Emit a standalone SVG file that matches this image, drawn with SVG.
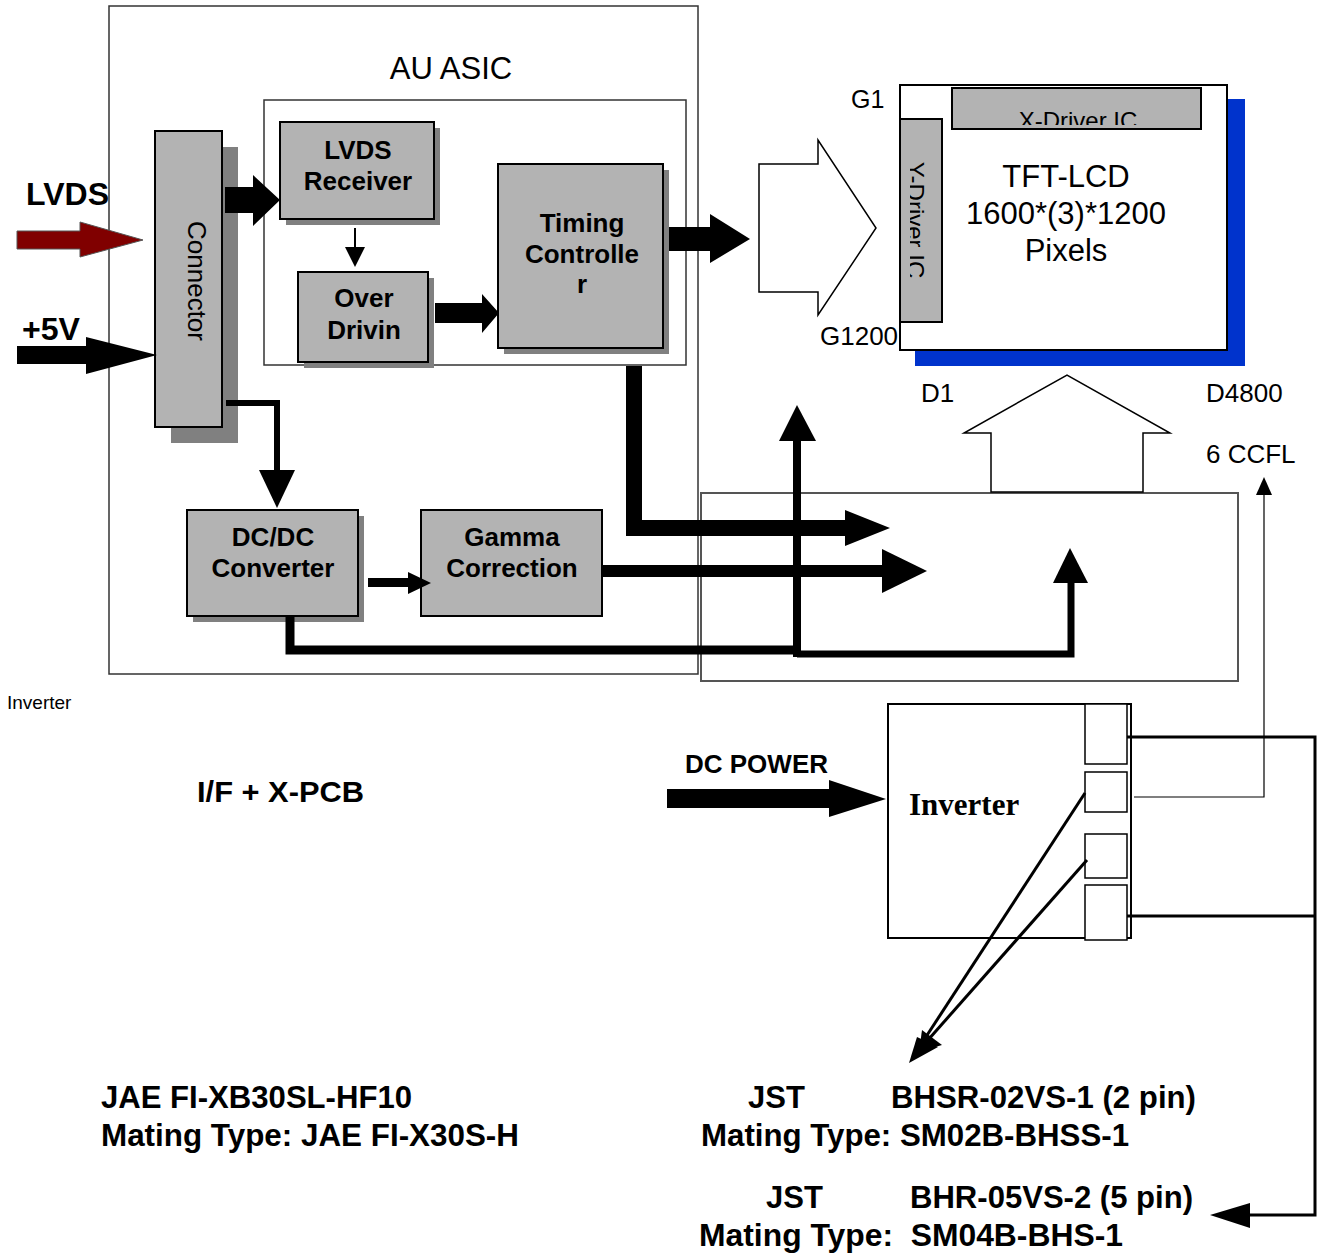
<svg xmlns="http://www.w3.org/2000/svg" width="1323" height="1255" viewBox="0 0 1323 1255">
<defs>
<style>
.b{font-family:"Liberation Sans",Arial,sans-serif;font-weight:bold;fill:#000}
.n{font-family:"Liberation Sans",Arial,sans-serif;font-weight:normal;fill:#000}
.box{fill:#b3b3b3;stroke:#000;stroke-width:2}
.sh{fill:#808080}
.frame{fill:none;stroke:#333;stroke-width:1.5}
.hollow{fill:#fff;stroke:#000;stroke-width:1.5}
.blk{fill:#000}
</style>
<clipPath id="cx"><rect x="952" y="88" width="249" height="37"/></clipPath>
<clipPath id="cy"><rect x="910" y="119" width="32" height="203"/></clipPath>
</defs>
<rect width="1323" height="1255" fill="#fff"/>

<g id="asic-frame">
<rect class="frame" x="109" y="6" width="589" height="668"/>
<text class="n" x="451" y="79" font-size="31" text-anchor="middle">AU ASIC</text>
</g>
<g id="asic-inner"><rect class="frame" x="264" y="100" width="422" height="265" stroke="#000"/></g>
<g id="xpcb-area"><rect x="701" y="493" width="537" height="188" fill="none" stroke="#555" stroke-width="2"/></g>

<g id="connector">
<rect class="sh" x="171" y="147" width="67" height="296"/>
<rect class="box" x="155" y="131" width="67" height="296"/>
<text class="n" font-size="26" text-anchor="middle" transform="translate(188,281) rotate(90)">Connector</text>
</g>

<g id="lvds-receiver">
<rect class="sh" x="286" y="128" width="154" height="97"/>
<rect class="box" x="280" y="122" width="154" height="97"/>
<text class="b" x="358" y="159" font-size="26" text-anchor="middle">LVDS</text>
<text class="b" x="358" y="190" font-size="26" text-anchor="middle">Receiver</text>
</g>

<g id="over-driving">
<rect class="sh" x="304" y="278" width="130" height="90"/>
<rect class="box" x="298" y="272" width="130" height="90"/>
<text class="b" x="364" y="307" font-size="26" text-anchor="middle">Over</text>
<text class="b" x="364" y="339" font-size="26" text-anchor="middle">Drivin</text>
</g>

<g id="timing-controller">
<rect class="sh" x="504" y="170" width="165" height="184"/>
<rect class="box" x="498" y="164" width="165" height="184"/>
<text class="b" x="582" y="232" font-size="26" text-anchor="middle">Timing</text>
<text class="b" x="582" y="263" font-size="26" text-anchor="middle">Controlle</text>
<text class="b" x="582" y="293" font-size="26" text-anchor="middle">r</text>
</g>

<g id="dcdc-converter">
<rect class="sh" x="193" y="516" width="171" height="106"/>
<rect class="box" x="187" y="510" width="171" height="106"/>
<text class="b" x="273" y="546" font-size="26" text-anchor="middle">DC/DC</text>
<text class="b" x="273" y="577" font-size="26" text-anchor="middle">Converter</text>
</g>

<g id="gamma-correction">
<rect class="box" x="421" y="510" width="181" height="106"/>
<text class="b" x="512" y="546" font-size="26" text-anchor="middle">Gamma</text>
<text class="b" x="512" y="577" font-size="26" text-anchor="middle">Correction</text>
</g>

<g id="tft-lcd">
<rect x="915" y="99" width="330" height="267" fill="#0033cc"/>
<rect x="900" y="85" width="327" height="265" fill="#fff" stroke="#000" stroke-width="2"/>
<text class="n" x="1066" y="187" font-size="31" text-anchor="middle">TFT-LCD</text>
<text class="n" x="1066" y="224" font-size="31" text-anchor="middle">1600*(3)*1200</text>
<text class="n" x="1066" y="261" font-size="31" text-anchor="middle">Pixels</text>
</g>
<g id="x-driver-ic">
<rect class="box" x="952" y="88" width="249" height="41"/>
<text class="n" x="1078" y="129" font-size="24" text-anchor="middle" clip-path="url(#cx)">X-Driver IC</text>
</g>
<g id="y-driver-ic">
<rect class="box" x="900" y="119" width="42" height="203"/>
<g clip-path="url(#cy)"><text class="n" font-size="24" text-anchor="middle" transform="translate(907,220) rotate(90)">Y-Driver IC</text></g>
</g>

<g id="panel-labels">
<text class="n" x="851" y="108" font-size="25">G1</text>
<text class="n" x="820" y="345" font-size="26">G1200</text>
<text class="n" x="921" y="402" font-size="26">D1</text>
<text class="n" x="1206" y="402" font-size="26">D4800</text>
<text class="n" x="1206" y="463" font-size="26">6 CCFL</text>
</g>

<g id="inverter">
<rect x="888" y="704" width="243" height="234" fill="#fff" stroke="#000" stroke-width="2"/>
<rect x="1085" y="704" width="42" height="60" fill="#fff" stroke="#000" stroke-width="1.5"/>
<rect x="1085" y="772" width="42" height="40" fill="#fff" stroke="#000" stroke-width="1.5"/>
<rect x="1085" y="834" width="42" height="44" fill="#fff" stroke="#000" stroke-width="1.5"/>
<rect x="1085" y="885" width="42" height="55" fill="#fff" stroke="#000" stroke-width="1.5"/>
<text x="909" y="815" font-size="31" font-family="'Liberation Serif','Times New Roman',serif" font-weight="bold">Inverter</text>
</g>

<g id="labels">
<text class="b" x="26" y="205" font-size="31" textLength="83" lengthAdjust="spacingAndGlyphs">LVDS</text>
<text class="b" x="22" y="340" font-size="31" textLength="58" lengthAdjust="spacingAndGlyphs">+5V</text>
<text class="n" x="7" y="709" font-size="19">Inverter</text>
<text class="b" x="197" y="802" font-size="30" textLength="167" lengthAdjust="spacingAndGlyphs">I/F + X-PCB</text>
<text class="b" x="685" y="773" font-size="26">DC POWER</text>
<text class="b" x="101" y="1108" font-size="31" textLength="311" lengthAdjust="spacingAndGlyphs">JAE FI-XB30SL-HF10</text>
<text class="b" x="101" y="1146" font-size="31" textLength="418" lengthAdjust="spacingAndGlyphs">Mating Type: JAE FI-X30S-H</text>
<text class="b" x="748" y="1108" font-size="31">JST</text>
<text class="b" x="891" y="1108" font-size="31" textLength="305" lengthAdjust="spacingAndGlyphs">BHSR-02VS-1 (2 pin)</text>
<text class="b" x="701" y="1146" font-size="31" textLength="428" lengthAdjust="spacingAndGlyphs">Mating Type: SM02B-BHSS-1</text>
<text class="b" x="766" y="1208" font-size="31">JST</text>
<text class="b" x="910" y="1208" font-size="31" textLength="283" lengthAdjust="spacingAndGlyphs">BHR-05VS-2 (5 pin)</text>
<text class="b" x="699" y="1246" font-size="31" textLength="424" lengthAdjust="spacingAndGlyphs" xml:space="preserve">Mating Type:  SM04B-BHS-1</text>
</g>

<g id="connectors">
<polygon points="17,231 80,231 80,222 143,240 80,257 80,249 17,249" fill="#800000" stroke="#555" stroke-width="1"/>
<polygon points="17,346 86,346 86,337 157,355 86,374 86,364 17,364" class="blk"/>
<polygon points="225,187 253,187 253,175 280,200 253,226 253,213 225,213" class="blk"/>
<line x1="355" y1="228" x2="355" y2="250" stroke="#000" stroke-width="2"/>
<polygon points="345,247 365,247 355,267" class="blk"/>
<polygon points="435,303 482,303 482,294 499,313 482,333 482,323 435,323" class="blk"/>
<polygon points="669,227 710,227 710,214 750,239 710,263 710,251 669,251" class="blk"/>
<polygon class="hollow" points="759,164 818,164 818,140 876,228 818,315 818,292 759,292"/>
<polygon class="hollow" points="991,492 991,433 964,433 1067,375 1170,433 1143,433 1143,492"/>
<path d="M226,403 H277 V472" fill="none" stroke="#000" stroke-width="6"/>
<polygon points="259,470 295,470 277,508" class="blk"/>
<polygon points="368,578 408,578 408,572 431,583 408,594 408,587 368,587" class="blk"/>
<path d="M634,366 V528 H848" fill="none" stroke="#000" stroke-width="16"/>
<polygon points="845,510 890,528 845,546" class="blk"/>
<line x1="602" y1="571" x2="884" y2="571" stroke="#000" stroke-width="12"/>
<polygon points="882,549 927,571 882,593" class="blk"/>
<path d="M290,617 V650 H797" fill="none" stroke="#000" stroke-width="9"/>
<line x1="797" y1="657" x2="797" y2="438" stroke="#000" stroke-width="8"/>
<polygon points="779,441 816,441 797,405" class="blk"/>
<path d="M797,654 H1071 V580" fill="none" stroke="#000" stroke-width="7"/>
<polygon points="1053,583 1088,583 1070,548" class="blk"/>
<polygon points="667,789 829,789 829,780 886,799 829,817 829,808 667,808" class="blk"/>
<path d="M1134,797 H1264 V492" fill="none" stroke="#000" stroke-width="1.2"/>
<polygon points="1256,495 1272,495 1264,477" class="blk"/>
<path d="M1127,737 H1315 V1215 H1245" fill="none" stroke="#000" stroke-width="3"/>
<line x1="1127" y1="916" x2="1315" y2="916" stroke="#000" stroke-width="3"/>
<polygon points="1250,1203 1250,1228 1210,1215" class="blk"/>
<line x1="1085" y1="793" x2="920" y2="1046" stroke="#000" stroke-width="3"/>
<line x1="1087" y1="860" x2="928" y2="1040" stroke="#000" stroke-width="3"/>
<polygon points="909,1063 917,1037 938,1047" class="blk"/>
<polygon points="919,1052 922,1030 942,1045" class="blk"/>
</g>
</svg>
